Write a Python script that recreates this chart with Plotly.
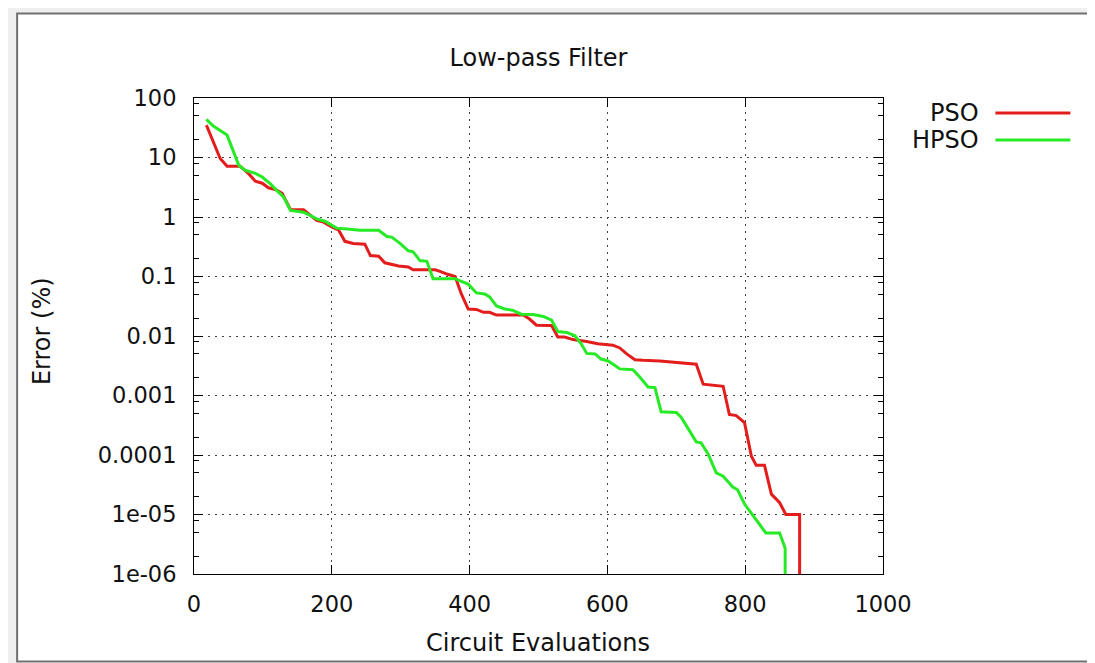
import plotly.graph_objects as go

# ---- data ----
pso_x = [18, 38, 48, 67, 79, 89, 99, 108, 118, 128, 140, 159, 178, 188, 200, 210, 219, 231, 248, 256,
         268, 277, 297, 311, 318, 350, 359, 367, 379, 388, 398, 410, 420, 429, 439, 478, 487, 497, 519, 528,
         538, 550, 570, 586, 608, 618, 628, 640, 652, 676, 729, 739, 768, 777, 787, 799, 809, 816, 828, 838,
         850, 859, 879, 879]
pso_y = [35, 9.6, 7.1, 7.1, 5.4, 4.0, 3.7, 3.1, 2.9, 2.5, 1.33, 1.33, 0.88, 0.82, 0.68, 0.6, 0.39, 0.36, 0.35, 0.225,
         0.22, 0.17, 0.15, 0.145, 0.13, 0.13, 0.12, 0.11, 0.1, 0.051, 0.0284, 0.028, 0.025, 0.025, 0.0225, 0.0225,
         0.0193, 0.0152, 0.015, 0.0096, 0.0096, 0.0087, 0.0081, 0.0074, 0.007, 0.0063, 0.005, 0.004, 0.0039, 0.0038,
         0.00336, 0.00155, 0.00143, 0.00048, 0.00046, 0.00035, 9.5e-5, 6.7e-5, 6.7e-5, 2.2e-5, 1.58e-5, 1e-5, 1e-5, 1e-7]

hpso_x = [18, 28, 48, 57, 65, 74, 89, 99, 111, 120, 130, 140, 159, 169, 178, 190, 207, 222, 241, 268,
          280, 287, 299, 311, 318, 328, 338, 347, 379, 388, 398, 410, 422, 429, 439, 451, 463, 475, 492, 507,
          519, 528, 541, 553, 562, 570, 582, 591, 601, 611, 618, 637, 647, 659, 669, 678, 700, 707, 729, 736,
          746, 758, 768, 782, 789, 799, 816, 830, 850, 858, 858]
hpso_y = [43.7, 33.7, 23.8, 13.3, 7.4, 6.1, 5.4, 4.7, 3.6, 2.8, 2.17, 1.29, 1.2, 1.06, 0.93, 0.85, 0.65, 0.63, 0.6, 0.6,
          0.47, 0.46, 0.36, 0.27, 0.26, 0.185, 0.18, 0.092, 0.092, 0.083, 0.0745, 0.053, 0.051, 0.0455, 0.032, 0.0285,
          0.027, 0.0233, 0.023, 0.0213, 0.0185, 0.0119, 0.0115, 0.0101, 0.0074, 0.0051, 0.005, 0.0041, 0.0038, 0.0032,
          0.0028, 0.0027, 0.00205, 0.00139, 0.00136, 0.000534, 0.00052, 0.000433, 0.000166, 0.00016, 0.000105, 5e-5,
          4.4e-5, 2.9e-5, 2.6e-5, 1.5e-5, 8.1e-6, 4.9e-6, 4.9e-6, 2.7e-6, 1e-7]

x_ticks = [0, 200, 400, 600, 800, 1000]
y_ticks = [100, 10, 1, 0.1, 0.01, 0.001, 0.0001, 1e-5, 1e-6]
y_ticktext = ["100", "10", "1", "0.1", "0.01", "0.001", "0.0001", "1e-05", "1e-06"]
y_minor = [m * d for d in [1e-6, 1e-5, 1e-4, 1e-3, 1e-2, 1e-1, 1, 10] for m in (2, 5, 8)]

series_names = ["PSO", "HPSO"]
series_colors = ["#e31c1c", "#26ea26"]

FONT = "DejaVu Sans"
FS = 22.5      # tick labels
FST = 24       # title, axis titles, legend
OFF = 8  # page body margin
W, H = 1095 - OFF, 663 - OFF
L, R, T, B = 186, 211.5, 90, 89
PW, PH = W - L - R, H - T - B


def px(x):
    return (x - OFF - L) / PW


def py(y):
    return (H - B - (y - OFF)) / PH


fig = go.Figure()
for name, xs, ys, col in zip(series_names, [pso_x, hpso_x], [pso_y, hpso_y], series_colors):
    fig.add_trace(go.Scatter(x=xs, y=ys, mode="lines", name=name,
                             line=dict(color=col, width=3), showlegend=False))

shapes = []
annotations = []
# legend (gnuplot style: text then line sample)
for i, (name, col) in enumerate(zip(series_names, series_colors)):
    yy = 113 + 27 * i
    annotations.append(dict(text=name, xref="paper", yref="paper", x=px(982), y=py(yy),
                            xanchor="right", yanchor="middle", showarrow=False,
                            font=dict(family=FONT, size=FST, color="#111111")))
    shapes.append(dict(type="line", xref="paper", yref="paper", x0=px(996), x1=px(1071),
                       y0=py(yy), y1=py(yy), line=dict(color=col, width=3)))

# axis titles
annotations.append(dict(text="Error (%)", xref="paper", yref="paper", x=px(42), y=py(331),
                        xanchor="center", yanchor="middle", textangle=-90, showarrow=False,
                        font=dict(family=FONT, size=FST, color="#111111")))
annotations.append(dict(text="Circuit Evaluations", xref="paper", yref="paper", x=px(538), y=py(643),
                        xanchor="center", yanchor="middle", showarrow=False,
                        font=dict(family=FONT, size=FST, color="#111111")))

# window frame
shapes.append(dict(type="rect", xref="paper", yref="paper", x0=px(0), x1=px(17), y0=py(670), y1=py(0),
                   fillcolor="#efefef", line=dict(width=0), layer="below"))
shapes.append(dict(type="rect", xref="paper", yref="paper", x0=px(0), x1=px(1120), y0=py(13), y1=py(0),
                   fillcolor="#efefef", line=dict(width=0), layer="below"))
shapes.append(dict(type="rect", xref="paper", yref="paper", x0=px(17), x1=px(1120), y0=py(661.5), y1=py(13.5),
                   fillcolor="rgba(0,0,0,0)", line=dict(color="#707070", width=2)))

axis_common = dict(showline=True, linecolor="black", linewidth=1, mirror="ticks",
                   ticks="inside", ticklen=9, tickcolor="black", tickwidth=1,
                   showgrid=True, gridcolor="#444444", griddash="2px,5px", gridwidth=1,
                   zeroline=False, tickfont=dict(family=FONT, size=FS, color="#111111"))

fig.update_layout(
    width=W, height=H,
    margin=dict(l=L, r=R, t=T, b=B),
    paper_bgcolor="white", plot_bgcolor="white",
    title=dict(text="Low-pass Filter", x=0.5, xref="paper", xanchor="center",
               y=1 - (58 - OFF) / H, yref="container", yanchor="middle",
               font=dict(family=FONT, size=FST, color="#111111")),
    xaxis=dict(range=[0, 1000], tickvals=x_ticks, ticklabelstandoff=10, **axis_common),
    yaxis=dict(type="log", range=[-6, 2], tickvals=y_ticks, ticktext=y_ticktext,
               ticklabelstandoff=12,
               minor=dict(tickvals=y_minor, ticks="inside", ticklen=5, tickcolor="black", showgrid=False),
               **axis_common),
    shapes=shapes,
    annotations=annotations,
)

fig.write_html("out.html")
